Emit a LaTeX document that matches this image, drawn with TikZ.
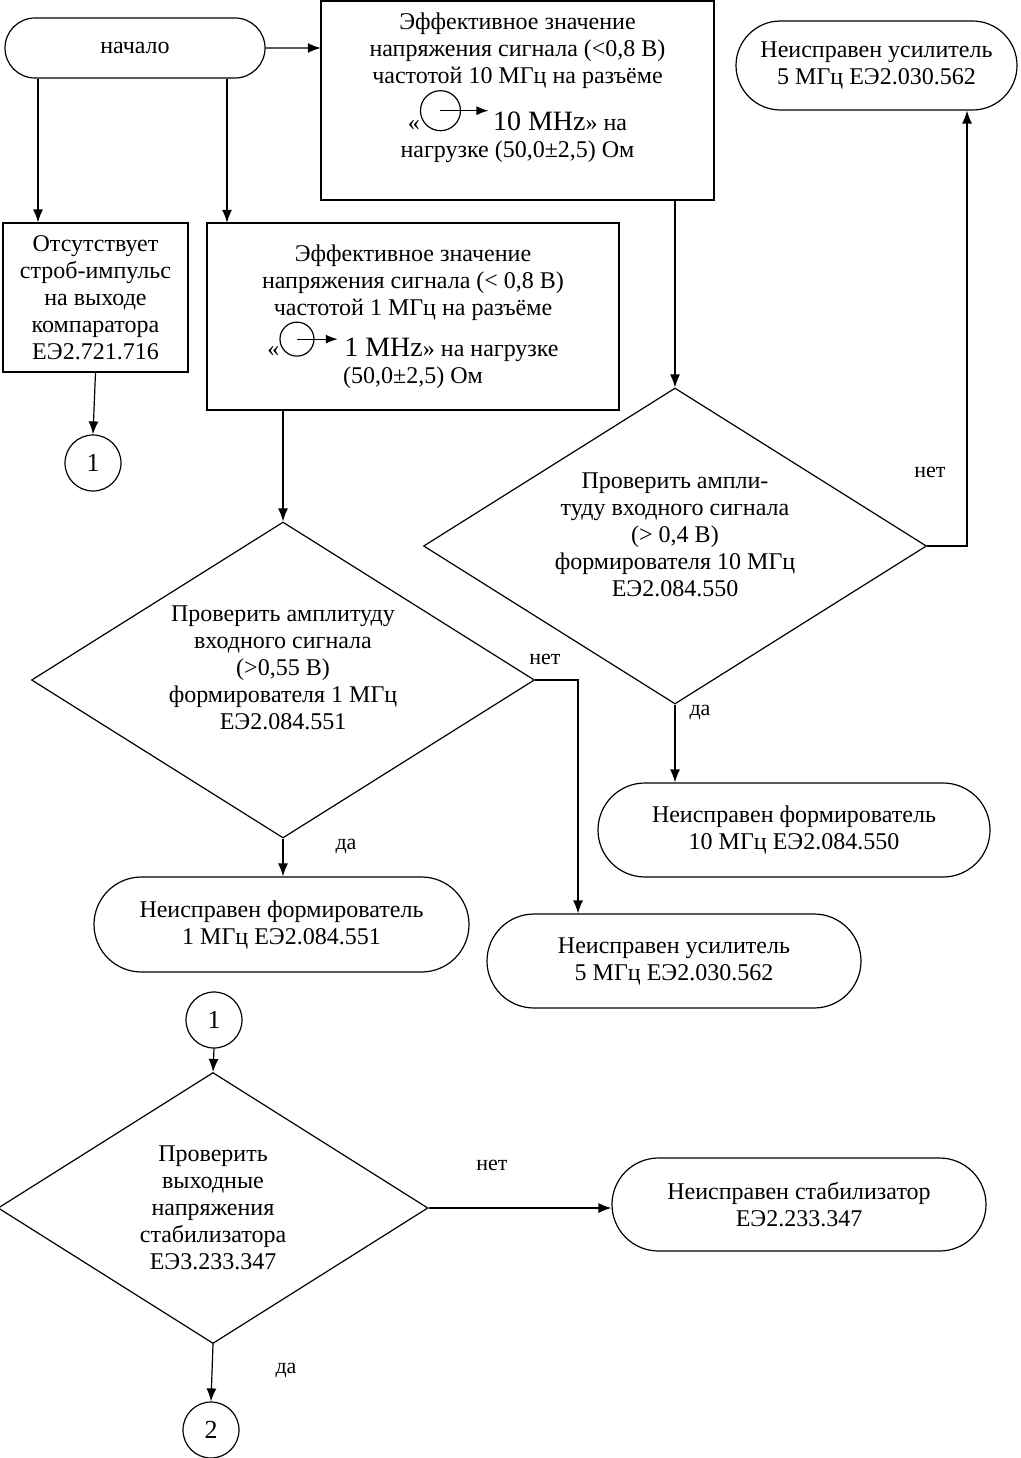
\documentclass[tikz,border=0pt]{standalone}
\usepackage{fontspec}
\setmainfont{Liberation Serif}
\usetikzlibrary{shapes.geometric,shapes.misc,arrows.meta}

\tikzset{
  blok/.style={draw, rectangle, align=center, inner sep=0pt},
  term/.style={draw, rounded rectangle, align=center, inner sep=0pt},
  romb/.style={draw, diamond, aspect=1.59, align=center, inner sep=0pt},
  krug/.style={draw, circle, minimum size=56pt, inner sep=0pt, font=\fontsize{26}{28}\selectfont},
  strelka/.style={-{Latex[length=13pt,width=10pt]}},
  nadp/.style={font=\fontsize{22}{24}\selectfont}
}
% gnezdo razjema: krug so strelkoj
\newcommand{\razjem}[1]{\tikz[baseline=-#1]{\draw[line width=1.2pt] (0pt,0pt) circle (#1);
  \draw[line width=1.2pt,-{Latex[length=12pt,width=9pt]}] (0pt,0pt) -- (2.4*#1,0pt);}}
\newcommand{\bolsh}{\fontsize{28}{28}\selectfont}

\begin{document}
\begin{tikzpicture}[x=1pt, y=-1pt, line width=1.2pt, font=\fontsize{24}{27}\selectfont]
  \useasboundingbox (0,0) rectangle (1020,1458);

  \node[term, minimum width=260pt, minimum height=60pt] (nachalo) at (135,48) {начало};
  \node[blok, minimum width=393pt, minimum height=199pt, text depth=30pt] (znach10) at (517.5,100.5)
    {Эффективное значение\\напряжения сигнала (<0,8 В)\\частотой 10 МГц на разъёме\\«\razjem{20pt}\,{\bolsh 10 MHz}» на\\нагрузке (50,0±2,5) Ом};
  \node[term, minimum width=281pt, minimum height=89pt] (usil1) at (876.5,65.5)
    {Неисправен усилитель\\5 МГц ЕЭ2.030.562};
  \node[blok, minimum width=185pt, minimum height=149pt] (strob) at (95.5,297.5)
    {Отсутствует\\строб-импульс\\на выходе\\компаратора\\ЕЭ2.721.716};
  \node[blok, minimum width=412pt, minimum height=187pt] (znach1) at (413,316.5)
    {Эффективное значение\\напряжения сигнала (< 0,8 В)\\частотой 1 МГц на разъёме\\«\razjem{17pt}\ {\bolsh 1 MHz}» на нагрузке\\(50,0±2,5) Ом};
  \node[krug] (k1) at (93,463) {1};

  \node[romb, minimum width=503pt, minimum height=316pt, text depth=22pt] (prov10) at (675,546)
    {Проверить ампли-\\туду входного сигнала\\(> 0,4 В)\\формирователя 10 МГц\\ЕЭ2.084.550};
  \node[romb, minimum width=503pt, minimum height=316pt, text depth=24pt] (prov1) at (283,680)
    {Проверить амплитуду\\входного сигнала\\(>0,55 В)\\формирователя 1 МГц\\ЕЭ2.084.551};

  \node[term, minimum width=392pt, minimum height=94pt] (form10) at (794,830)
    {Неисправен формирователь\\10 МГц ЕЭ2.084.550};
  \node[term, minimum width=375pt, minimum height=95pt] (form1) at (281.5,924.5)
    {Неисправен формирователь\\1 МГц ЕЭ2.084.551};
  \node[term, minimum width=374pt, minimum height=94pt] (usil2) at (674,961)
    {Неисправен усилитель\\5 МГц ЕЭ2.030.562};

  \node[krug] (k1b) at (214,1020) {1};
  \node[romb, minimum width=430pt, minimum height=271pt] (stab) at (213,1208)
    {Проверить\\выходные\\напряжения\\стабилизатора\\ЕЭ3.233.347};
  \node[term, minimum width=374pt, minimum height=93pt] (stabn) at (799,1204.5)
    {Неисправен стабилизатор\\ЕЭ2.233.347};
  \node[krug] (k2) at (211,1430) {2};

  % strelki
  \coordinate (a1) at ([xshift=-57.5pt]strob.north);
  \coordinate (a2) at ([xshift=-186pt]znach1.north);
  \coordinate (a3) at ([xshift=90.5pt]usil1.south);
  \coordinate (a4) at ([xshift=-96pt]usil2.north);

  \draw[strelka] (nachalo) -- (nachalo -| znach10.west);
  \draw[strelka] (a1 |- nachalo.south) -- (a1);
  \draw[strelka] (a2 |- nachalo.south) -- (a2);
  \draw[strelka] (strob.south) -- (k1.north);
  \draw[strelka] (znach1.south -| prov1.north) -- (prov1.north);
  \draw[strelka] (znach10.south -| prov10.north) -- (prov10.north);
  \draw[strelka] (prov10.east) -| (a3);
  \draw[strelka] (prov10.south) -- (prov10.south |- form10.north);
  \draw[strelka] (prov1.east) -| (a4);
  \draw[strelka] (prov1.south) -- (prov1.south |- form1.north);
  \draw[strelka] (k1b.south) -- (stab.north);
  \draw[strelka] (stab.east) -- (stab.east -| stabn.west);
  \draw[strelka] (stab.south) -- (k2.north);

  \node[nadp] (net1) at (930,472) {нет};
  \node[nadp] (da1) at (700,712) {да};
  \node[nadp] (net2) at (545,659) {нет};
  \node[nadp] (da2) at (346,846) {да};
  \node[nadp] (net3) at (492,1165) {нет};
  \node[nadp] (da3) at (286,1370) {да};
\end{tikzpicture}
\end{document}
